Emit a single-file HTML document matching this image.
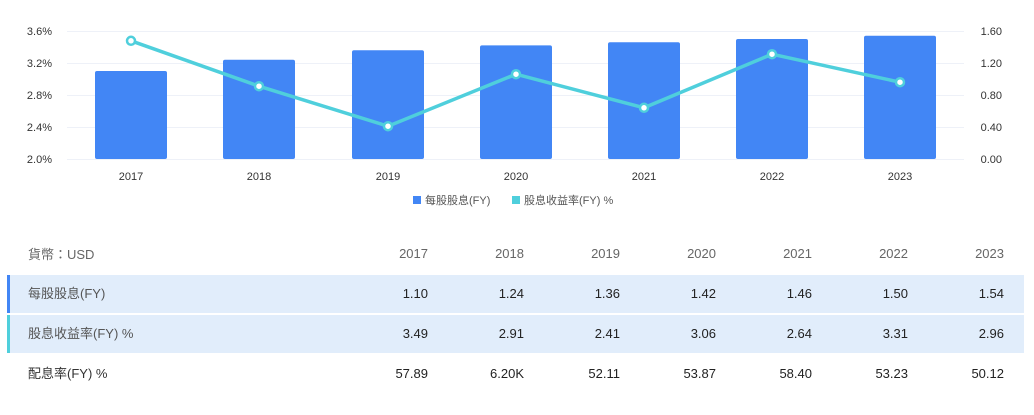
<!DOCTYPE html>
<html><head><meta charset="utf-8"><style>
body{margin:0;width:1034px;height:415px;background:#fff;font-family:"Liberation Sans","Noto Sans CJK TC",sans-serif;overflow:hidden;position:relative}
.row{position:absolute;left:7px;width:1017px;height:38px;background:#e1edfb}
.c{position:absolute;font-size:13px;line-height:16px;height:16px;color:#222;text-align:right;width:80px}
.l{position:absolute;left:28px;font-size:13px;line-height:16px;height:16px;color:#555}
</style></head><body>
<svg width="1034" height="230" style="position:absolute;left:0;top:0" font-family="Liberation Sans, sans-serif" font-size="11" fill="#333">
<g stroke="#eef1f8" stroke-width="1">
<line x1="67" x2="964" y1="31.5" y2="31.5"/><line x1="67" x2="964" y1="63.5" y2="63.5"/><line x1="67" x2="964" y1="95.5" y2="95.5"/><line x1="67" x2="964" y1="127.5" y2="127.5"/><line x1="67" x2="964" y1="159.5" y2="159.5"/>
</g>
<g text-anchor="end"><text x="52" y="35">3.6%</text><text x="52" y="67">3.2%</text><text x="52" y="99">2.8%</text><text x="52" y="131">2.4%</text><text x="52" y="163">2.0%</text></g>
<g text-anchor="end"><text x="1002" y="35">1.60</text><text x="1002" y="67">1.20</text><text x="1002" y="99">0.80</text><text x="1002" y="131">0.40</text><text x="1002" y="163">0.00</text></g>
<g fill="#4286f5">
<rect x="95" y="71" width="72" height="88" rx="2"/><rect x="223" y="59.8" width="72" height="99.2" rx="2"/><rect x="352" y="50.2" width="72" height="108.8" rx="2"/><rect x="480" y="45.4" width="72" height="113.6" rx="2"/><rect x="608" y="42.2" width="72" height="116.8" rx="2"/><rect x="736" y="39" width="72" height="120" rx="2"/><rect x="864" y="35.8" width="72" height="123.2" rx="2"/>
</g>
<polyline points="131,40.8 259,86.2 388,126.2 516,74.2 644,107.8 772,54.2 900,82.2" fill="none" stroke="#4fcfdc" stroke-width="3.5"/>
<g fill="#fff" stroke="#4fcfdc" stroke-width="2.5">
<circle cx="131" cy="40.8" r="4"/><circle cx="259" cy="86.2" r="4"/><circle cx="388" cy="126.2" r="4"/><circle cx="516" cy="74.2" r="4"/><circle cx="644" cy="107.8" r="4"/><circle cx="772" cy="54.2" r="4"/><circle cx="900" cy="82.2" r="4"/>
</g>
<g text-anchor="middle"><text x="131" y="180">2017</text><text x="259" y="180">2018</text><text x="388" y="180">2019</text><text x="516" y="180">2020</text><text x="644" y="180">2021</text><text x="772" y="180">2022</text><text x="900" y="180">2023</text></g>
<rect x="413" y="196" width="8" height="8" fill="#4286f5"/>
<text x="425" y="204" font-family="Liberation Sans, Noto Sans CJK TC, sans-serif" fill="#555">每股股息(FY)</text>
<rect x="512" y="196" width="8" height="8" fill="#4fcfdc"/>
<text x="524" y="204" font-family="Liberation Sans, Noto Sans CJK TC, sans-serif" fill="#555">股息收益率(FY) %</text>
<line x1="7" x2="1024" y1="233.5" y2="233.5" stroke="#eef1f5"/>
</svg>
<div class="l" style="top:247px;color:#666">貨幣：USD</div>
<div class="row" style="top:275px"><div style="position:absolute;left:0;top:0;width:3px;height:38px;background:#4286f5"></div></div>
<div class="row" style="top:315px"><div style="position:absolute;left:0;top:0;width:3px;height:38px;background:#4fcfdc"></div></div>
<div class="l" style="top:286px">每股股息(FY)</div>
<div class="l" style="top:326px">股息收益率(FY) %</div>
<div class="l" style="top:366px;color:#333">配息率(FY) %</div>
<div id="cols"></div>
<script>
var xs=[428,524,620,716,812,908,1004];
var rows=[[246,["2017","2018","2019","2020","2021","2022","2023"],"#666"],[286,["1.10","1.24","1.36","1.42","1.46","1.50","1.54"],"#222"],[326,["3.49","2.91","2.41","3.06","2.64","3.31","2.96"],"#222"],[366,["57.89","6.20K","52.11","53.87","58.40","53.23","50.12"],"#222"]];
var h="";rows.forEach(function(r){r[1].forEach(function(v,i){h+='<div class="c" style="top:'+r[0]+'px;left:'+(xs[i]-80)+'px;color:'+r[2]+'">'+v+'</div>';});});
document.getElementById("cols").innerHTML=h;
</script>
</body></html>
